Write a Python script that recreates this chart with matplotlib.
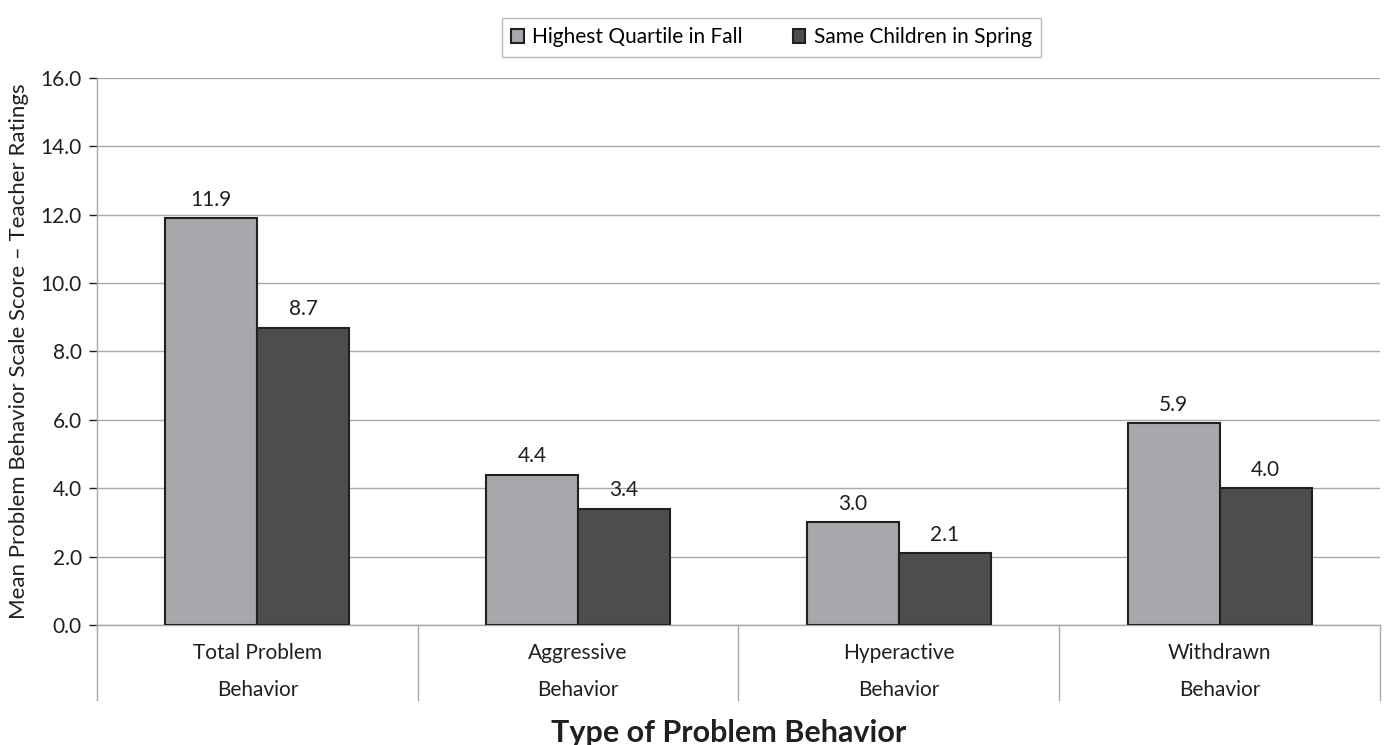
import matplotlib.pyplot as plt
import numpy as np

plt.rcParams['font.family'] = ['Lato', 'DejaVu Sans']

# data
categories = ['Total Problem\nBehavior', 'Aggressive\nBehavior',
              'Hyperactive\nBehavior', 'Withdrawn\nBehavior']
fall = [11.9, 4.4, 3.0, 5.9]
spring = [8.7, 3.4, 2.1, 4.0]
series_names = ['Highest Quartile in Fall', 'Same Children in Spring']

fig = plt.figure(figsize=(13.85, 7.45), dpi=100)
ax = fig.add_axes([0.0700, 0.1611, 0.9264, 0.7342])

x = np.arange(len(categories))
w = 0.287
edge = '#231F20'
b1 = ax.bar(x - w / 2, fall, w, color='#A7A8AB', edgecolor=edge, linewidth=1.5,
            label=series_names[0], zorder=3)
b2 = ax.bar(x + w / 2, spring, w, color='#4D4D4F', edgecolor=edge, linewidth=1.5,
            label=series_names[1], zorder=3)

for bars in (b1, b2):
    for r in bars:
        ax.annotate(f'{r.get_height():.1f}', (r.get_x() + r.get_width() / 2, r.get_height()),
                    xytext=(0, 6), textcoords='offset points', ha='center', va='bottom',
                    fontsize=15, color='#231F20')

ax.set_ylim(0, 16)
ax.set_xlim(-0.5, len(categories) - 0.5)
ax.set_yticks(np.arange(0, 16.1, 2))
ax.set_yticklabels([f'{v:.1f}' for v in np.arange(0, 16.1, 2)], fontsize=15, color='#231F20')
ax.yaxis.grid(True, color='#A8A8A8', linewidth=1, zorder=0)
ax.tick_params(axis='y', length=6, width=1, color='#231F20', pad=5)

ax.set_xticks(x)
ax.set_xticklabels(categories, fontsize=15, color='#231F20', linespacing=2.05)
ax.tick_params(axis='x', length=0, pad=13)

for s in ['top', 'right']:
    ax.spines[s].set_visible(False)
for s in ['left', 'bottom']:
    ax.spines[s].set_color('#A8A8A8')
    ax.spines[s].set_linewidth(1)

# category separators below the axis
for xs in np.arange(-0.5, len(categories), 1.0):
    ax.plot([xs, xs], [0, -0.137], transform=ax.get_xaxis_transform(),
            color='#A8A8A8', linewidth=1, clip_on=False)

ax.set_ylabel('Mean Problem Behavior Scale Score \u2013 Teacher Ratings', fontsize=16,
              color='#231F20', labelpad=8)
fig.text(0.526, 0.016, 'Type of Problem Behavior', ha='center', va='center',
         fontsize=22, fontweight='bold', color='#231F20')

leg = fig.legend(handles=[b1, b2], loc='center', bbox_to_anchor=(0.557, 0.950),
                 ncol=2, fontsize=15, frameon=True, fancybox=False,
                 handlelength=0.6, handleheight=0.6, handletextpad=0.4,
                 columnspacing=2.4, borderpad=0.45, borderaxespad=0)
leg.get_frame().set_edgecolor('#A8A8A8')
leg.get_frame().set_linewidth(1)

fig.savefig('out.png', dpi=100)
